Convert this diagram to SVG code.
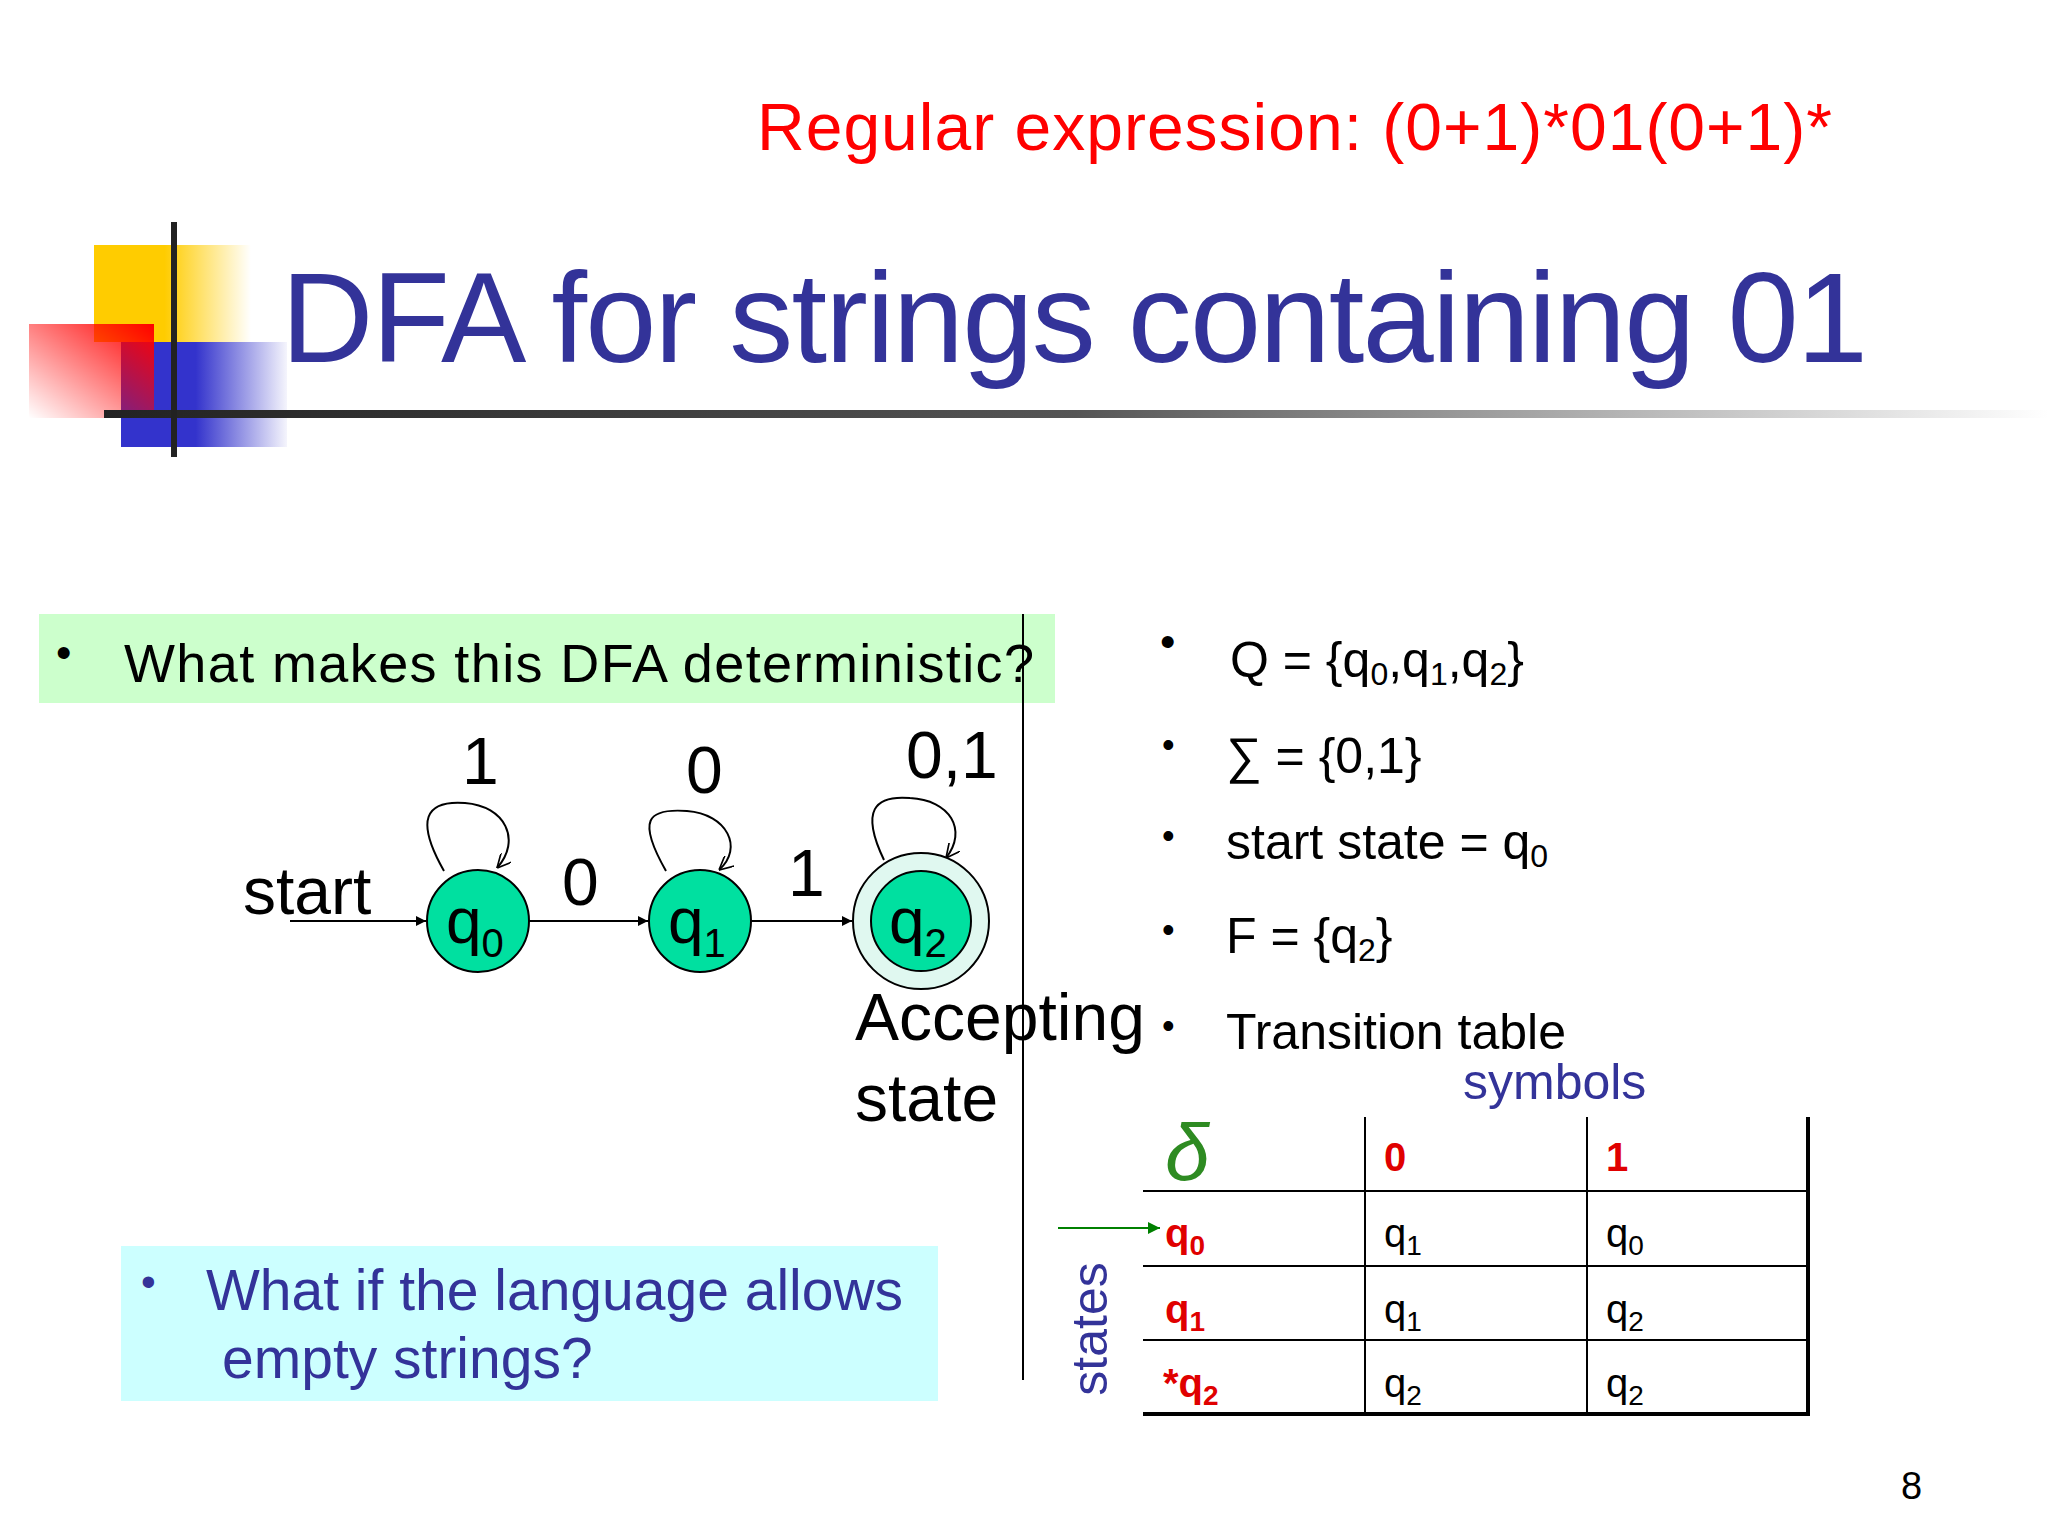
<svg xmlns="http://www.w3.org/2000/svg" width="2048" height="1536" viewBox="0 0 2048 1536">
<defs>
<linearGradient id="gy" x1="0" x2="1" y1="0" y2="0"><stop offset="0.45" stop-color="#ffcc00"/><stop offset="1" stop-color="#ffcc00" stop-opacity="0"/></linearGradient>
<linearGradient id="gr" x1="1" y1="0" x2="0" y2="1"><stop offset="0" stop-color="#ff0000"/><stop offset="1" stop-color="#ff0000" stop-opacity="0"/></linearGradient>
<linearGradient id="gb" x1="0" x2="1" y1="0" y2="0"><stop offset="0.45" stop-color="#3333cc"/><stop offset="1" stop-color="#3333cc" stop-opacity="0.05"/></linearGradient>
<linearGradient id="gl" x1="0" x2="1" y1="0" y2="0"><stop offset="0" stop-color="#222"/><stop offset="0.5" stop-color="#555"/><stop offset="1" stop-color="#fff"/></linearGradient>
<marker id="ah" viewBox="0 0 10 10" refX="10" refY="5" markerWidth="10" markerHeight="10" markerUnits="userSpaceOnUse" orient="auto"><path d="M0,0 L10,5 L0,10 z" fill="#000"/></marker>
<marker id="ao" viewBox="0 0 10 10" refX="10" refY="5" markerWidth="14" markerHeight="14" markerUnits="userSpaceOnUse" orient="auto"><path d="M0,0 L10,5 L0,10" fill="none" stroke="#000" stroke-width="1.2"/></marker>
<marker id="ag" viewBox="0 0 10 10" refX="10" refY="5" markerWidth="12" markerHeight="12" markerUnits="userSpaceOnUse" orient="auto"><path d="M0,0 L10,5 L0,10 z" fill="#008000"/></marker>
</defs>
<style>
text{font-family:"Liberation Sans",Arial,sans-serif}
.st{fill:#00e0a0;stroke:#000;stroke-width:2}
.lbl{font-size:64px;fill:#000}
.sl{font-size:66px;fill:#000}
.rt{font-size:50px;fill:#000}
.tb{font-size:40px;fill:#000}
.rd{font-size:40px;fill:#e00000;font-weight:bold}
.ln{stroke:#000;stroke-width:2}
</style>
<text x="757" y="150" font-size="66" fill="#ff0000" textLength="1075">Regular expression: (0+1)*01(0+1)*</text>
<g id="logo">
<rect x="94" y="245" width="157" height="97" fill="url(#gy)"/>
<rect x="121" y="342" width="166" height="105" fill="url(#gb)"/>
<rect x="29" y="324" width="125" height="94" fill="url(#gr)"/>
<rect x="104" y="410" width="1944" height="8" fill="url(#gl)"/>
<rect x="171" y="222" width="6" height="235" fill="#222"/>
</g>
<text x="281" y="362" font-size="128" fill="#333399" textLength="1587">DFA for strings containing 01</text>
<rect x="39" y="614" width="1016" height="89" fill="#ccffcc"/>
<text x="56" y="668" font-size="44">•</text>
<text x="124" y="682" font-size="54" textLength="910">What makes this DFA deterministic?</text>
<line x1="1023" y1="614" x2="1023" y2="1380" class="ln"/>
<g id="connectors" fill="none" stroke="#000" stroke-width="2">
<line x1="290" y1="921" x2="426" y2="921" marker-end="url(#ah)"/>
<line x1="529" y1="921" x2="648" y2="921" marker-end="url(#ah)"/>
<line x1="751" y1="921" x2="852" y2="921" marker-end="url(#ah)"/>
<path d="M444 871 C415 820,425 800,465 803 C505 806,522 840,497 868" marker-end="url(#ao)"/>
<path d="M666 871 C637 820,647 808,687 811 C727 814,744 848,719 870" marker-end="url(#ao)"/>
<path d="M884 860 C860 810,875 795,910 798 C950 800,968 830,946 858" marker-end="url(#ao)"/>
</g>
<text x="243" y="914" class="sl">start</text>
<text x="562" y="905" class="sl">0</text>
<text x="788" y="896" class="sl">1</text>
<text x="462" y="784" class="sl">1</text>
<text x="686" y="793" class="sl">0</text>
<text x="906" y="778" class="sl">0,1</text>
<g id="q0"><circle cx="478" cy="921" r="51" class="st"/><text x="446" y="943" class="lbl">q<tspan font-size="40" dy="14">0</tspan></text></g>
<g id="q1"><circle cx="700" cy="921" r="51" class="st"/><text x="668" y="943" class="lbl">q<tspan font-size="40" dy="14">1</tspan></text></g>
<g id="q2"><circle cx="921" cy="921" r="68" fill="#e0f8f0" stroke="#000" stroke-width="2"/><circle cx="921" cy="921" r="50" class="st"/><text x="889" y="943" class="lbl">q<tspan font-size="40" dy="14">2</tspan></text></g>
<text x="855" y="1040" class="sl">Accepting</text>
<text x="855" y="1121" class="sl">state</text>
<g class="rt">
<text x="1160" y="657" font-size="44">•</text>
<text x="1230" y="677">Q = {q<tspan font-size="32" dy="8">0</tspan><tspan dy="-8">,q</tspan><tspan font-size="32" dy="8">1</tspan><tspan dy="-8">,q</tspan><tspan font-size="32" dy="8">2</tspan><tspan dy="-8">}</tspan></text>
<text x="1162" y="757" font-size="36">•</text>
<text x="1226" y="773">∑ = {0,1}</text>
<text x="1162" y="848" font-size="36">•</text>
<text x="1226" y="859">start state = q<tspan font-size="32" dy="8">0</tspan></text>
<text x="1162" y="942" font-size="36">•</text>
<text x="1226" y="953">F = {q<tspan font-size="32" dy="8">2</tspan><tspan dy="-8">}</tspan></text>
<text x="1162" y="1038" font-size="36">•</text>
<text x="1226" y="1049">Transition table</text>
</g>
<text x="1463" y="1099" font-size="50" fill="#333399">symbols</text>
<g id="table">
<line x1="1143" y1="1191" x2="1809" y2="1191" class="ln"/>
<line x1="1143" y1="1266" x2="1809" y2="1266" class="ln"/>
<line x1="1143" y1="1340" x2="1809" y2="1340" class="ln"/>
<line x1="1143" y1="1414" x2="1810" y2="1414" stroke="#000" stroke-width="4"/>
<line x1="1365" y1="1117" x2="1365" y2="1414" class="ln"/>
<line x1="1587" y1="1117" x2="1587" y2="1414" class="ln"/>
<line x1="1808" y1="1117" x2="1808" y2="1416" stroke="#000" stroke-width="4"/>
<text x="1165" y="1180" font-size="80" fill="#2e8b22" font-style="italic" font-family="Liberation Serif,serif">δ</text>
<text x="1384" y="1171" class="rd">0</text>
<text x="1606" y="1171" class="rd">1</text>
<text x="1165" y="1247" class="rd">q<tspan font-size="28" dy="8">0</tspan></text>
<text x="1384" y="1247" class="tb">q<tspan font-size="28" dy="8">1</tspan></text>
<text x="1606" y="1247" class="tb">q<tspan font-size="28" dy="8">0</tspan></text>
<text x="1165" y="1323" class="rd">q<tspan font-size="28" dy="8">1</tspan></text>
<text x="1384" y="1323" class="tb">q<tspan font-size="28" dy="8">1</tspan></text>
<text x="1606" y="1323" class="tb">q<tspan font-size="28" dy="8">2</tspan></text>
<text x="1163" y="1397" class="rd">*q<tspan font-size="28" dy="8">2</tspan></text>
<text x="1384" y="1397" class="tb">q<tspan font-size="28" dy="8">2</tspan></text>
<text x="1606" y="1397" class="tb">q<tspan font-size="28" dy="8">2</tspan></text>
<line x1="1058" y1="1228" x2="1160" y2="1228" stroke="#008000" stroke-width="2" marker-end="url(#ag)"/>
<text transform="translate(1107,1329) rotate(-90)" text-anchor="middle" font-size="50" fill="#333399">states</text>
</g>
<rect x="121" y="1246" width="817" height="155" fill="#ccffff"/>
<text x="141" y="1296" font-size="42" fill="#333399">•</text>
<text x="206" y="1310" font-size="57" fill="#333399">What if the language allows</text>
<text x="222" y="1378" font-size="57" fill="#333399">empty strings?</text>
<text x="1901" y="1499" font-size="38">8</text>
</svg>
